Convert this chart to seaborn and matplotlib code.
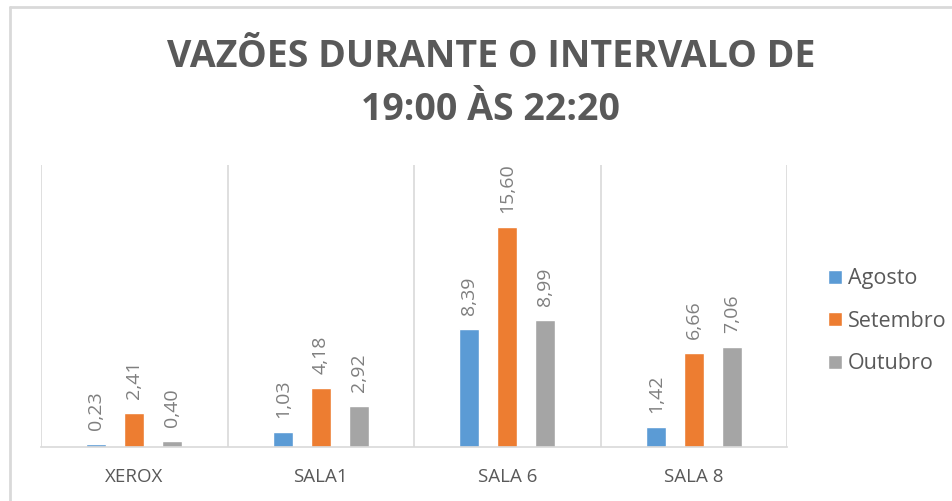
import pandas as pd
import numpy as np
import matplotlib.pyplot as plt
from matplotlib.lines import Line2D
import seaborn as sns

# dados
locais = ['XEROX', 'SALA1', 'SALA 6', 'SALA 8']
meses = ['Agosto', 'Setembro', 'Outubro']
agosto = [0.23, 1.03, 8.39, 1.42]
setembro = [2.41, 4.18, 15.60, 6.66]
outubro = [0.40, 2.92, 8.99, 7.06]
cores = ['#5B9BD5', '#ED7D31', '#A5A5A5']
titulo = 'VAZÕES DURANTE O INTERVALO DE\n19:00 ÀS 22:20'

sns.set_theme(style='white')
plt.rcParams['font.family'] = ['Open Sans', 'DejaVu Sans']

df = pd.DataFrame({
    'local': locais * 3,
    'mes': [m for m in meses for _ in locais],
    'vazao': agosto + setembro + outubro,
})

fig = plt.figure(figsize=(9.53, 5.01), dpi=100)
# moldura cinza só em cima e à esquerda (como no recorte original)
fig.add_artist(Line2D([0.0105, 0.0105], [0.0, 0.986], transform=fig.transFigure,
                      color='#d9d9d9', linewidth=2))
fig.add_artist(Line2D([0.0105, 1.0], [0.986, 0.986], transform=fig.transFigure,
                      color='#d9d9d9', linewidth=2))

ax = fig.add_axes([0.043, 0.108, 0.783, 0.563])

sns.barplot(data=df, x='local', y='vazao', hue='mes', palette=cores,
            saturation=1, width=0.61, gap=0.47, ax=ax, legend=True)

for cont in ax.containers:
    labels = ['{:.2f}'.format(v).replace('.', ',') for v in cont.datavalues]
    ax.bar_label(cont, labels=labels, rotation=90, padding=10,
                 color='#7f7f7f', fontsize=14)

ax.set_ylim(0, 20)
ax.set_xlim(-0.5, 3.5)
ax.set_yticks([])
ax.set_xlabel('')
ax.set_ylabel('')
ax.set_xticks(np.arange(-0.5, 4, 1), minor=True)
ax.grid(axis='x', which='minor', color='#d9d9d9', linewidth=1.2)
ax.tick_params(axis='x', which='both', length=0, pad=15,
               labelsize=13.5, labelcolor='#595959')
for s in ['top', 'left', 'right']:
    ax.spines[s].set_visible(False)
ax.spines['bottom'].set_color('#d9d9d9')
ax.spines['bottom'].set_linewidth(1.2)

leg = ax.legend(title=None, frameon=False, loc='center left',
                bbox_to_anchor=(1.055, 0.445), fontsize=15.5,
                borderaxespad=0, borderpad=0,
                handlelength=0.65, handleheight=0.65, handletextpad=0.25,
                labelspacing=1.0, labelcolor='#595959')

fig.text(0.515, 0.833, titulo, ha='center', va='center', fontsize=27,
         fontweight='bold', color='#595959', linespacing=1.5)

plt.savefig('out.png', dpi=100)
